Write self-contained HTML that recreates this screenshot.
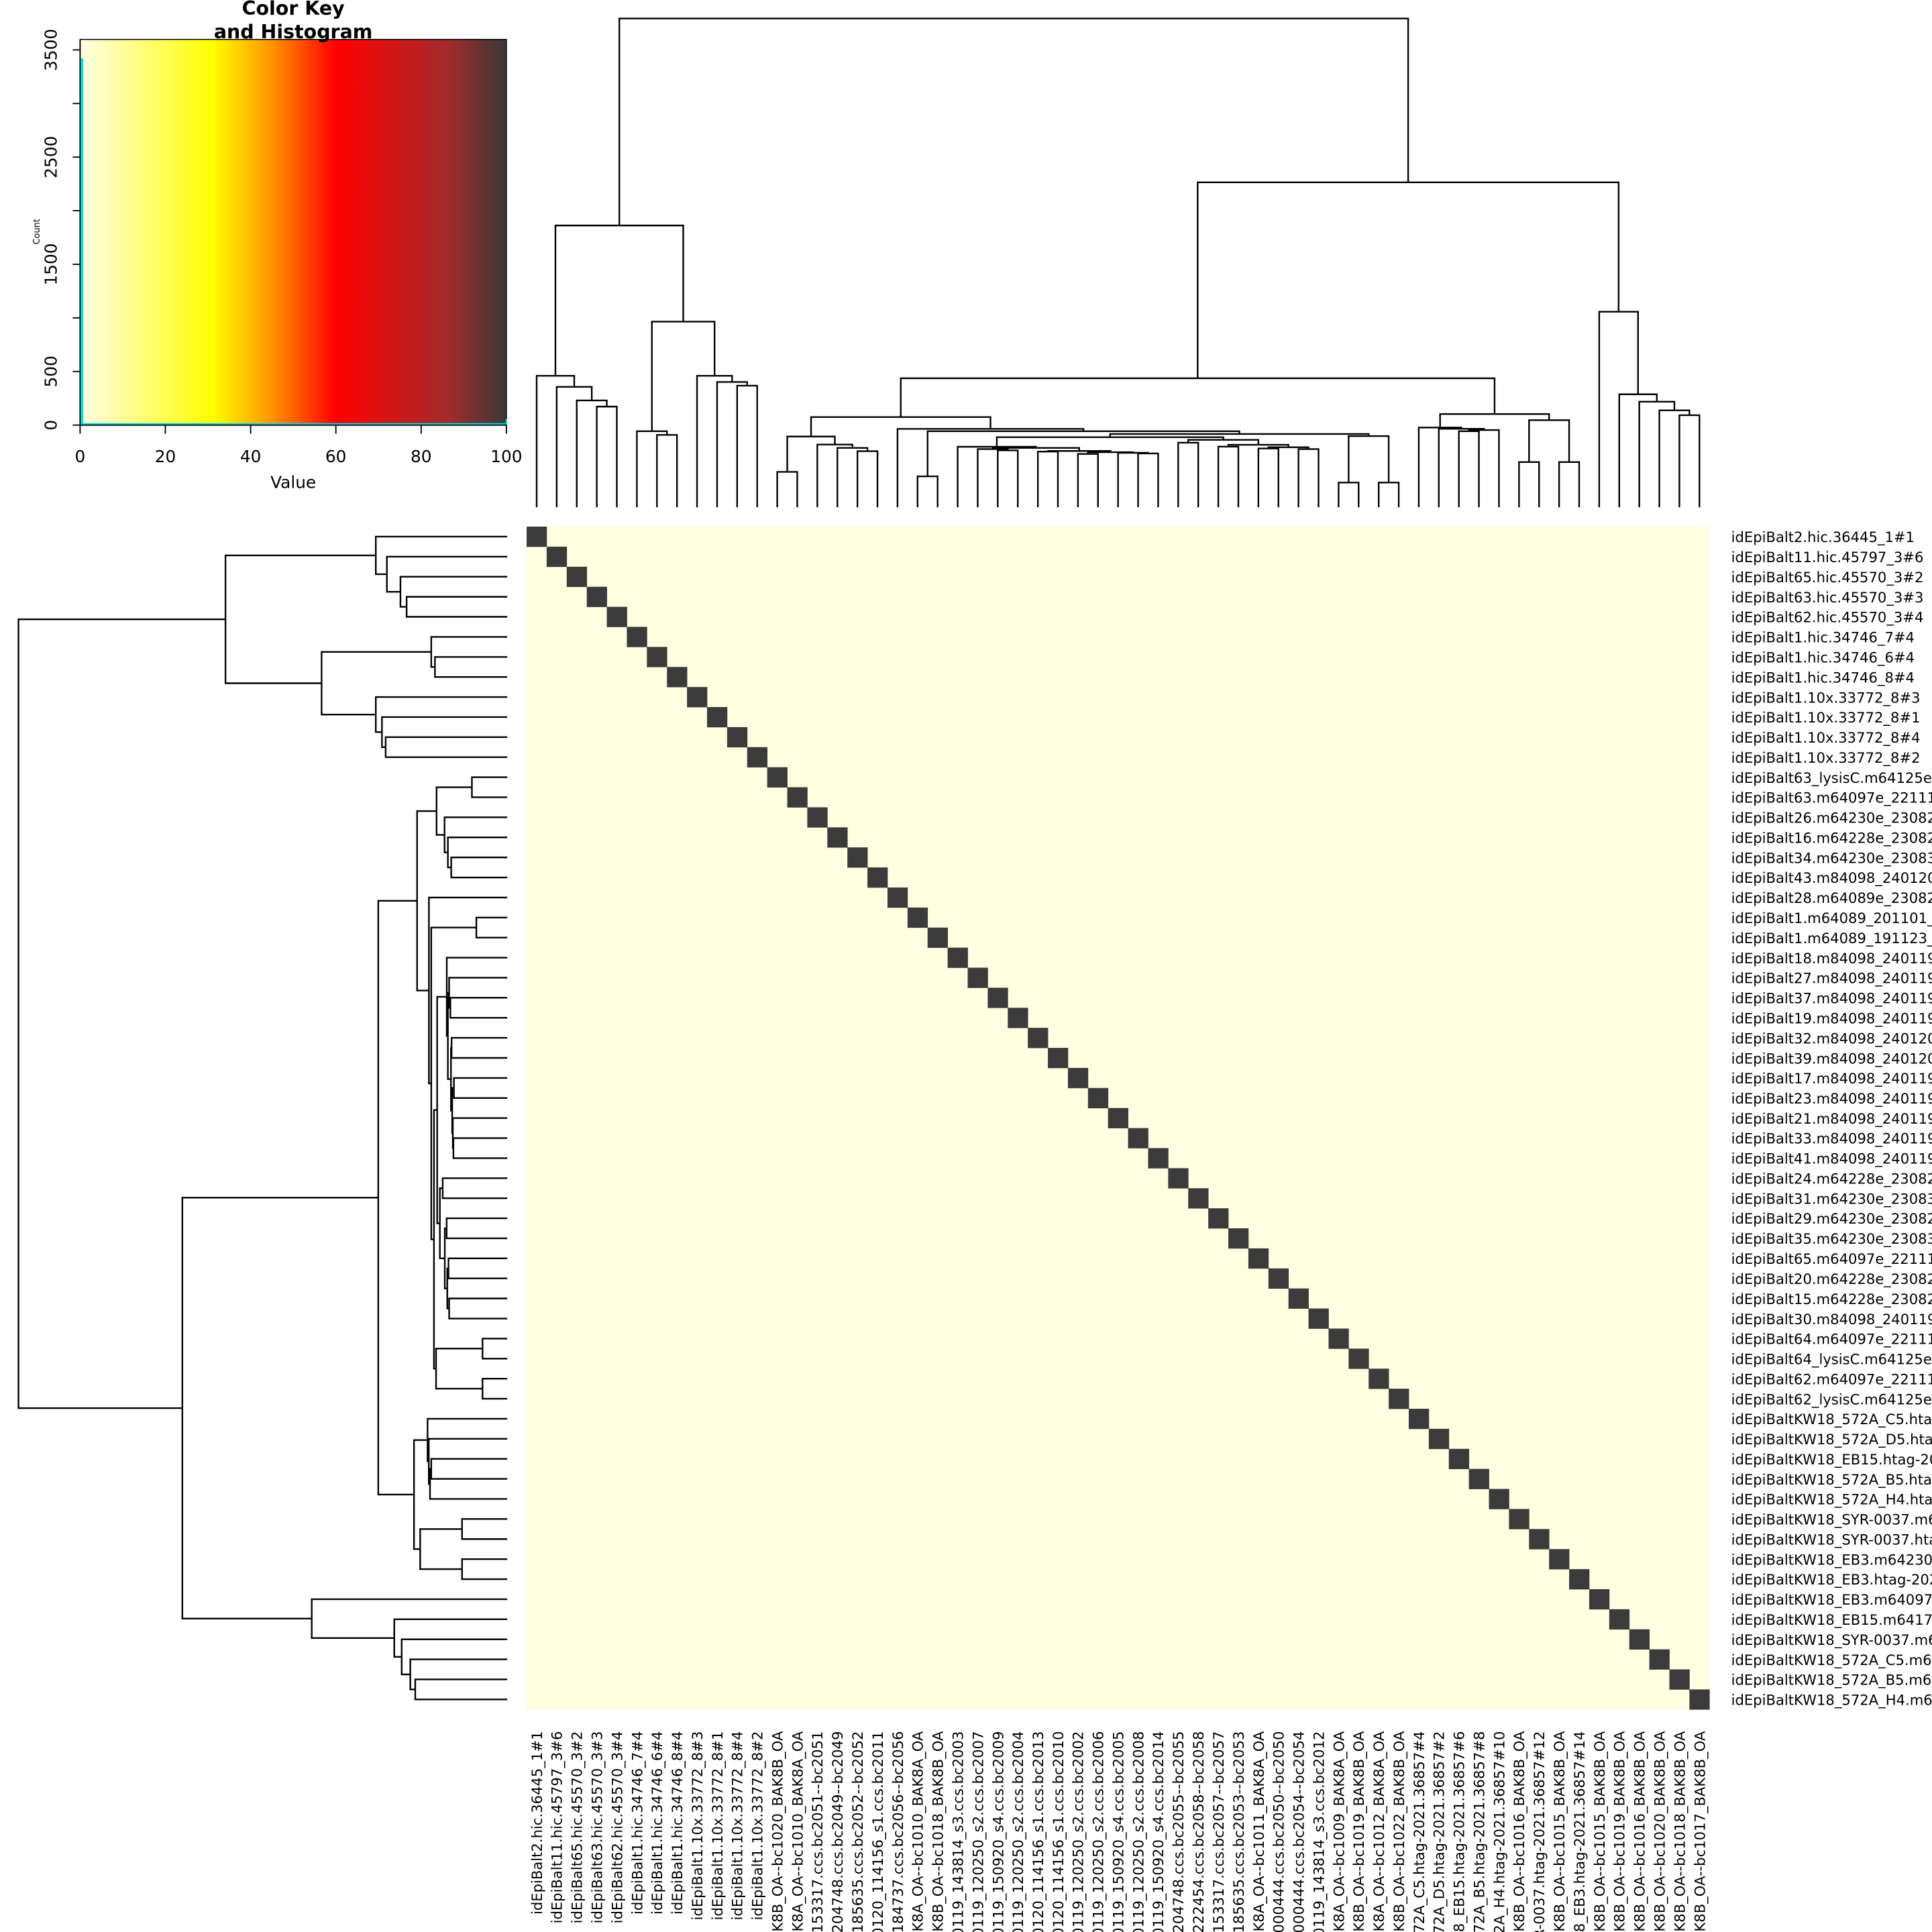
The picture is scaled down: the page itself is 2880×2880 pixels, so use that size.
<!DOCTYPE html>
<html><head><meta charset="utf-8">
<style>
html,body{margin:0;padding:0;background:#fff;width:2880px;height:2880px;overflow:hidden;}
svg{display:block;overflow:hidden;}
text{font-family:"DejaVu Sans","Liberation Sans",sans-serif;fill:#000;}
</style></head>
<body>
<svg id="s" xmlns="http://www.w3.org/2000/svg" width="2880" height="2880" viewBox="0 0 1568 1568">
<defs>
<linearGradient id="g" x1="0" x2="1" y1="0" y2="0">
<stop offset="0" stop-color="#fffee6"/>
<stop offset="0.31" stop-color="#ffff00"/>
<stop offset="0.45" stop-color="#ff9400"/>
<stop offset="0.6" stop-color="#ff0000"/>
<stop offset="0.86" stop-color="#a52a2a"/>
<stop offset="1" stop-color="#383838"/>
</linearGradient>
</defs>
<rect width="1568" height="1568" fill="#fff"/>
<!-- color key -->
<rect x="65" y="32" width="346" height="313" fill="url(#g)" stroke="#000" stroke-width="0.8"/>
<polyline points="66,345 66,48 67,48 67,344 411,344 411,340" fill="none" stroke="#00e5e5" stroke-width="1.2"/>
<g stroke="#000" stroke-width="1">
<line x1="65" y1="32" x2="65" y2="345"/>
<line x1="59" y1="345" x2="65" y2="345"/><line x1="59" y1="301.5" x2="65" y2="301.5"/><line x1="59" y1="258" x2="65" y2="258"/><line x1="59" y1="214.5" x2="65" y2="214.5"/><line x1="59" y1="171" x2="65" y2="171"/><line x1="59" y1="127.5" x2="65" y2="127.5"/><line x1="59" y1="84" x2="65" y2="84"/><line x1="59" y1="40.5" x2="65" y2="40.5"/>
<line x1="65" y1="345" x2="411" y2="345"/>
<line x1="65" y1="345" x2="65" y2="352"/><line x1="134.2" y1="345" x2="134.2" y2="352"/><line x1="203.4" y1="345" x2="203.4" y2="352"/><line x1="272.6" y1="345" x2="272.6" y2="352"/><line x1="341.8" y1="345" x2="341.8" y2="352"/><line x1="411" y1="345" x2="411" y2="352"/>
</g>
<g font-size="13.5" text-anchor="middle">
<text transform="translate(46,345) rotate(-90)">0</text>
<text transform="translate(46,301.5) rotate(-90)">500</text>
<text transform="translate(46,214.5) rotate(-90)">1500</text>
<text transform="translate(46,127.5) rotate(-90)">2500</text>
<text transform="translate(46,40.5) rotate(-90)">3500</text>
<text x="65" y="375">0</text><text x="134.2" y="375">20</text><text x="203.4" y="375">40</text><text x="272.6" y="375">60</text><text x="341.8" y="375">80</text><text x="411" y="375">100</text>
<text x="238" y="396">Value</text>
<text transform="translate(32,188) rotate(-90)" font-size="7">Count</text>
<text x="238" y="12" font-size="15.5" font-weight="bold">Color Key</text>
<text x="238" y="31" font-size="15.5" font-weight="bold">and Histogram</text>
</g>
<!-- heatmap -->
<rect x="427.4" y="427.4" width="960" height="960" fill="#fefee1"/>
<g id="cells" fill="#3b3b3b"></g>
<g id="dend" stroke="#000" stroke-width="1.3" fill="none" stroke-linecap="square"></g>
<!-- row labels -->
<g font-size="11.5">
<text x="1405" y="440">idEpiBalt2.hic.36445_1#1</text>
<text x="1405" y="456.3">idEpiBalt11.hic.45797_3#6</text>
<text x="1405" y="472.5">idEpiBalt65.hic.45570_3#2</text>
<text x="1405" y="488.8">idEpiBalt63.hic.45570_3#3</text>
<text x="1405" y="505.1">idEpiBalt62.hic.45570_3#4</text>
<text x="1405" y="521.4">idEpiBalt1.hic.34746_7#4</text>
<text x="1405" y="537.6">idEpiBalt1.hic.34746_6#4</text>
<text x="1405" y="553.9">idEpiBalt1.hic.34746_8#4</text>
<text x="1405" y="570.2">idEpiBalt1.10x.33772_8#3</text>
<text x="1405" y="586.4">idEpiBalt1.10x.33772_8#1</text>
<text x="1405" y="602.7">idEpiBalt1.10x.33772_8#4</text>
<text x="1405" y="619">idEpiBalt1.10x.33772_8#2</text>
<text x="1405" y="635.3">idEpiBalt63_lysisC.m64125e</text>
<text x="1405" y="651.5">idEpiBalt63.m64097e_22111</text>
<text x="1405" y="667.8">idEpiBalt26.m64230e_23082</text>
<text x="1405" y="684.1">idEpiBalt16.m64228e_23082</text>
<text x="1405" y="700.3">idEpiBalt34.m64230e_23083</text>
<text x="1405" y="716.6">idEpiBalt43.m84098_240120</text>
<text x="1405" y="732.9">idEpiBalt28.m64089e_23082</text>
<text x="1405" y="749.2">idEpiBalt1.m64089_201101_</text>
<text x="1405" y="765.4">idEpiBalt1.m64089_191123_</text>
<text x="1405" y="781.7">idEpiBalt18.m84098_240119</text>
<text x="1405" y="798">idEpiBalt27.m84098_240119</text>
<text x="1405" y="814.2">idEpiBalt37.m84098_240119</text>
<text x="1405" y="830.5">idEpiBalt19.m84098_240119</text>
<text x="1405" y="846.8">idEpiBalt32.m84098_240120</text>
<text x="1405" y="863.1">idEpiBalt39.m84098_240120</text>
<text x="1405" y="879.3">idEpiBalt17.m84098_240119</text>
<text x="1405" y="895.6">idEpiBalt23.m84098_240119</text>
<text x="1405" y="911.9">idEpiBalt21.m84098_240119</text>
<text x="1405" y="928.1">idEpiBalt33.m84098_240119</text>
<text x="1405" y="944.4">idEpiBalt41.m84098_240119</text>
<text x="1405" y="960.7">idEpiBalt24.m64228e_23082</text>
<text x="1405" y="977">idEpiBalt31.m64230e_23083</text>
<text x="1405" y="993.2">idEpiBalt29.m64230e_23082</text>
<text x="1405" y="1009.5">idEpiBalt35.m64230e_23083</text>
<text x="1405" y="1025.8">idEpiBalt65.m64097e_22111</text>
<text x="1405" y="1042">idEpiBalt20.m64228e_23082</text>
<text x="1405" y="1058.3">idEpiBalt15.m64228e_23082</text>
<text x="1405" y="1074.6">idEpiBalt30.m84098_240119</text>
<text x="1405" y="1090.9">idEpiBalt64.m64097e_22111</text>
<text x="1405" y="1107.1">idEpiBalt64_lysisC.m64125e</text>
<text x="1405" y="1123.4">idEpiBalt62.m64097e_22111</text>
<text x="1405" y="1139.7">idEpiBalt62_lysisC.m64125e</text>
<text x="1405" y="1155.9">idEpiBaltKW18_572A_C5.htag</text>
<text x="1405" y="1172.2">idEpiBaltKW18_572A_D5.htag</text>
<text x="1405" y="1188.5">idEpiBaltKW18_EB15.htag-20</text>
<text x="1405" y="1204.8">idEpiBaltKW18_572A_B5.htag</text>
<text x="1405" y="1221">idEpiBaltKW18_572A_H4.htag</text>
<text x="1405" y="1237.3">idEpiBaltKW18_SYR-0037.m6</text>
<text x="1405" y="1253.6">idEpiBaltKW18_SYR-0037.hta</text>
<text x="1405" y="1269.8">idEpiBaltKW18_EB3.m64230</text>
<text x="1405" y="1286.1">idEpiBaltKW18_EB3.htag-202</text>
<text x="1405" y="1302.4">idEpiBaltKW18_EB3.m64097</text>
<text x="1405" y="1318.7">idEpiBaltKW18_EB15.m6417</text>
<text x="1405" y="1334.9">idEpiBaltKW18_SYR-0037.m6</text>
<text x="1405" y="1351.2">idEpiBaltKW18_572A_C5.m6</text>
<text x="1405" y="1367.5">idEpiBaltKW18_572A_B5.m6</text>
<text x="1405" y="1383.7">idEpiBaltKW18_572A_H4.m6</text>
</g>
<!-- column labels -->
<g font-size="11.5" text-anchor="end">
<text transform="translate(439.8,1405) rotate(-90)">idEpiBalt2.hic.36445_1#1</text>
<text transform="translate(456.1,1405) rotate(-90)">idEpiBalt11.hic.45797_3#6</text>
<text transform="translate(472.4,1405) rotate(-90)">idEpiBalt65.hic.45570_3#2</text>
<text transform="translate(488.6,1405) rotate(-90)">idEpiBalt63.hic.45570_3#3</text>
<text transform="translate(504.9,1405) rotate(-90)">idEpiBalt62.hic.45570_3#4</text>
<text transform="translate(521.2,1405) rotate(-90)">idEpiBalt1.hic.34746_7#4</text>
<text transform="translate(537.4,1405) rotate(-90)">idEpiBalt1.hic.34746_6#4</text>
<text transform="translate(553.7,1405) rotate(-90)">idEpiBalt1.hic.34746_8#4</text>
<text transform="translate(570,1405) rotate(-90)">idEpiBalt1.10x.33772_8#3</text>
<text transform="translate(586.3,1405) rotate(-90)">idEpiBalt1.10x.33772_8#1</text>
<text transform="translate(602.5,1405) rotate(-90)">idEpiBalt1.10x.33772_8#4</text>
<text transform="translate(618.8,1405) rotate(-90)">idEpiBalt1.10x.33772_8#2</text>
<text transform="translate(635.1,1405) rotate(-90)">idEpiBaltidEpiBalt_BAK8B_OA--bc1020_BAK8B_OA</text>
<text transform="translate(651.3,1405) rotate(-90)">idEpiBaltidEpiBalt_BAK8A_OA--bc1010_BAK8A_OA</text>
<text transform="translate(667.6,1405) rotate(-90)">idEpiBaltidEpiBalt_153317.ccs.bc2051--bc2051</text>
<text transform="translate(683.9,1405) rotate(-90)">idEpiBaltidEpiBalt_204748.ccs.bc2049--bc2049</text>
<text transform="translate(700.2,1405) rotate(-90)">idEpiBaltidEpiBalt_185635.ccs.bc2052--bc2052</text>
<text transform="translate(716.4,1405) rotate(-90)">idEpiBaltidEpiBalt_240120_114156_s1.ccs.bc2011</text>
<text transform="translate(732.7,1405) rotate(-90)">idEpiBaltidEpiBalt_184737.ccs.bc2056--bc2056</text>
<text transform="translate(749,1405) rotate(-90)">idEpiBaltidEpiBalt_BAK8A_OA--bc1010_BAK8A_OA</text>
<text transform="translate(765.2,1405) rotate(-90)">idEpiBaltidEpiBalt_BAK8B_OA--bc1018_BAK8B_OA</text>
<text transform="translate(781.5,1405) rotate(-90)">idEpiBaltidEpiBalt_240119_143814_s3.ccs.bc2003</text>
<text transform="translate(797.8,1405) rotate(-90)">idEpiBaltidEpiBalt_240119_120250_s2.ccs.bc2007</text>
<text transform="translate(814.1,1405) rotate(-90)">idEpiBaltidEpiBalt_240119_150920_s4.ccs.bc2009</text>
<text transform="translate(830.3,1405) rotate(-90)">idEpiBaltidEpiBalt_240119_120250_s2.ccs.bc2004</text>
<text transform="translate(846.6,1405) rotate(-90)">idEpiBaltidEpiBalt_240120_114156_s1.ccs.bc2013</text>
<text transform="translate(862.9,1405) rotate(-90)">idEpiBaltidEpiBalt_240120_114156_s1.ccs.bc2010</text>
<text transform="translate(879.1,1405) rotate(-90)">idEpiBaltidEpiBalt_240119_120250_s2.ccs.bc2002</text>
<text transform="translate(895.4,1405) rotate(-90)">idEpiBaltidEpiBalt_240119_120250_s2.ccs.bc2006</text>
<text transform="translate(911.7,1405) rotate(-90)">idEpiBaltidEpiBalt_240119_150920_s4.ccs.bc2005</text>
<text transform="translate(928,1405) rotate(-90)">idEpiBaltidEpiBalt_240119_120250_s2.ccs.bc2008</text>
<text transform="translate(944.2,1405) rotate(-90)">idEpiBaltidEpiBalt_240119_150920_s4.ccs.bc2014</text>
<text transform="translate(960.5,1405) rotate(-90)">idEpiBaltidEpiBalt_204748.ccs.bc2055--bc2055</text>
<text transform="translate(976.8,1405) rotate(-90)">idEpiBaltidEpiBalt_222454.ccs.bc2058--bc2058</text>
<text transform="translate(993,1405) rotate(-90)">idEpiBaltidEpiBalt_153317.ccs.bc2057--bc2057</text>
<text transform="translate(1009.3,1405) rotate(-90)">idEpiBaltidEpiBalt_185635.ccs.bc2053--bc2053</text>
<text transform="translate(1025.6,1405) rotate(-90)">idEpiBaltidEpiBalt_BAK8A_OA--bc1011_BAK8A_OA</text>
<text transform="translate(1041.9,1405) rotate(-90)">idEpiBaltidEpiBalt_000444.ccs.bc2050--bc2050</text>
<text transform="translate(1058.1,1405) rotate(-90)">idEpiBaltidEpiBalt_000444.ccs.bc2054--bc2054</text>
<text transform="translate(1074.4,1405) rotate(-90)">idEpiBaltidEpiBalt_240119_143814_s3.ccs.bc2012</text>
<text transform="translate(1090.7,1405) rotate(-90)">idEpiBaltidEpiBalt_BAK8A_OA--bc1009_BAK8A_OA</text>
<text transform="translate(1106.9,1405) rotate(-90)">idEpiBaltidEpiBalt_BAK8B_OA--bc1019_BAK8B_OA</text>
<text transform="translate(1123.2,1405) rotate(-90)">idEpiBaltidEpiBalt_BAK8A_OA--bc1012_BAK8A_OA</text>
<text transform="translate(1139.5,1405) rotate(-90)">idEpiBaltidEpiBalt_BAK8B_OA--bc1022_BAK8B_OA</text>
<text transform="translate(1155.8,1405) rotate(-90)">idEpiBaltKW18_572A_C5.htag-2021.36857#4</text>
<text transform="translate(1172,1405) rotate(-90)">idEpiBaltKW18_572A_D5.htag-2021.36857#2</text>
<text transform="translate(1188.3,1405) rotate(-90)">idEpiBaltKW18_EB15.htag-2021.36857#6</text>
<text transform="translate(1204.6,1405) rotate(-90)">idEpiBaltKW18_572A_B5.htag-2021.36857#8</text>
<text transform="translate(1220.8,1405) rotate(-90)">idEpiBaltKW18_572A_H4.htag-2021.36857#10</text>
<text transform="translate(1237.1,1405) rotate(-90)">idEpiBaltidEpiBalt_BAK8B_OA--bc1016_BAK8B_OA</text>
<text transform="translate(1253.4,1405) rotate(-90)">idEpiBaltKW18_SYR-0037.htag-2021.36857#12</text>
<text transform="translate(1269.7,1405) rotate(-90)">idEpiBaltidEpiBalt_BAK8B_OA--bc1015_BAK8B_OA</text>
<text transform="translate(1285.9,1405) rotate(-90)">idEpiBaltKW18_EB3.htag-2021.36857#14</text>
<text transform="translate(1302.2,1405) rotate(-90)">idEpiBaltidEpiBalt_BAK8B_OA--bc1015_BAK8B_OA</text>
<text transform="translate(1318.5,1405) rotate(-90)">idEpiBaltidEpiBalt_BAK8B_OA--bc1019_BAK8B_OA</text>
<text transform="translate(1334.7,1405) rotate(-90)">idEpiBaltidEpiBalt_BAK8B_OA--bc1016_BAK8B_OA</text>
<text transform="translate(1351,1405) rotate(-90)">idEpiBaltidEpiBalt_BAK8B_OA--bc1020_BAK8B_OA</text>
<text transform="translate(1367.3,1405) rotate(-90)">idEpiBaltidEpiBalt_BAK8B_OA--bc1018_BAK8B_OA</text>
<text transform="translate(1383.6,1405) rotate(-90)">idEpiBaltidEpiBalt_BAK8B_OA--bc1017_BAK8B_OA</text>
</g>
</svg>
<script>
(function(){
var NS="http://www.w3.org/2000/svg";
var X0=427.4, C=960/59, LEAF=411;
var cells=document.getElementById("cells");
for(var i=0;i<59;i++){
  var r=document.createElementNS(NS,"rect");
  r.setAttribute("x",X0+i*C);r.setAttribute("y",X0+i*C);
  r.setAttribute("width",C+0.2);r.setAttribute("height",C+0.2);
  cells.appendChild(r);
}
function pos(i){return X0+C*(i-0.5);}
var T1=[305,1,[314,2,[325,3,[330,4,5]]]];
var T2=[261,[350,6,[353,7,8]],[305,9,[310,10,[313,11,12]]]];
var LeftT=[183,T1,T2];
var A=[354.3,[383,13,14],[360.8,15,[363.5,16,[366.2,17,18]]]];
var G=[362.6,22,[363.5,[364.5,23,[365.5,24,25]],[366,[366.5,26,27],[367,[368.4,28,29],[367.5,30,[368,31,32]]]]]];
var H=[357,[359.3,33,34],[361,[362.5,35,36],[363,[364,37,38],[364.5,39,40]]]];
var E=[354.8,G,H];
var F=[353.9,[391.6,41,42],[391.6,43,44]];
var D=[352.2,E,F];
var B=[348.1,19,[350,[386.6,20,21],D]];
var AB=[338.5,A,B];
var R2=[336,[347,45,[348,46,[349,[350,47,48],49]]],[341,[375,50,51],[375,52,53]]];
var RU=[307,AB,R2];
var R3=[253,54,[320,55,[326,56,[333,57,[337,58,59]]]]];
var RightT=[148,RU,R3];
var Root=[15,LeftT,RightT];
var segs=[];
function seg(p1,h1,p2,h2){segs.push([p1,h1,p2,h2]);}
function walk(n){
  if(typeof n==="number") return {p:pos(n),h:LEAF};
  var a=walk(n[1]), b=walk(n[2]), h=n[0];
  seg(a.p,h,a.p,a.h); seg(b.p,h,b.p,b.h); seg(a.p,h,b.p,h);
  return {p:(a.p+b.p)/2,h:h};
}
walk(Root);
var d="";
for(var k=0;k<segs.length;k++){
  var s=segs[k];
  d+="M"+s[0].toFixed(2)+" "+s[1].toFixed(2)+"L"+s[2].toFixed(2)+" "+s[3].toFixed(2);
  d+="M"+s[1].toFixed(2)+" "+s[0].toFixed(2)+"L"+s[3].toFixed(2)+" "+s[2].toFixed(2);
}
var p=document.createElementNS(NS,"path");
p.setAttribute("d",d);
document.getElementById("dend").appendChild(p);
})();
</script>
</body></html>
